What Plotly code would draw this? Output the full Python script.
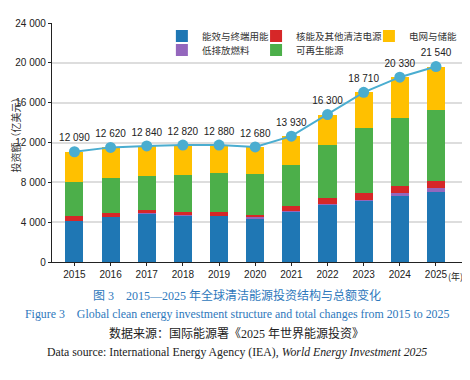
import plotly.graph_objects as go
import numpy as np

years = ["2015", "2016", "2017", "2018", "2019", "2020", "2021", "2022", "2023", "2024", "2025"]
efficiency = [4130, 4530, 4880, 4650, 4630, 4400, 5070, 5770, 6170, 6630, 7030]
low_emission_fuels = [10, 10, 30, 50, 10, 100, 100, 100, 100, 330, 430]
nuclear_other = [500, 430, 350, 370, 430, 230, 470, 570, 700, 670, 670]
renewables = [3400, 3470, 3400, 3700, 3900, 4100, 4100, 5300, 6470, 6830, 7100]
grid_storage = [3030, 3070, 3000, 2970, 2770, 2730, 2900, 3070, 3600, 4100, 4400]
total_labels = [12090, 12620, 12840, 12820, 12880, 12680, 13930, 16300, 18710, 20330, 21540]

y_tickvals = [0, 4000, 8000, 12000, 16000, 20000, 24000]
y_ticktext = ["0", "4 000", "8 000", "12 000", "16 000", "20 000", "24 000"]

SANS = "Liberation Sans, Arial, sans-serif"
CJK = "Noto Sans CJK SC, sans-serif"
SERIF = "Liberation Serif, Noto Sans CJK SC, serif"

series = [
    ("能效与终端用能", efficiency, "#1f77b4", "legend"),
    ("低排放燃料", low_emission_fuels, "#9467bd", "legend2"),
    ("核能及其他清洁电源", nuclear_other, "#d62728", "legend3"),
    ("可再生能源", renewables, "#4caf4a", "legend4"),
    ("电网与储能", grid_storage, "#ffc000", "legend5"),
]

fig = go.Figure()
for name, vals, color, lg in series:
    fig.add_trace(go.Bar(x=years, y=vals, name=name, marker_color=color,
                         marker_line_width=0, width=0.5, legend=lg))

stack_total = np.sum([efficiency, low_emission_fuels, nuclear_other, renewables, grid_storage], axis=0)
fig.add_trace(go.Scatter(
    x=years, y=stack_total, mode="lines+markers+text",
    line=dict(color="#4aadd0", width=2),
    marker=dict(color="#4aadd0", size=11),
    text=[f"{v:,}".replace(",", " ") for v in total_labels],
    textposition="top center",
    textfont=dict(family=SANS, size=10, color="#222"),
    showlegend=False, cliponaxis=False,
))

def leg(xp, yp):
    return dict(x=xp, y=yp, xanchor="left", yanchor="middle", bgcolor="rgba(0,0,0,0)",
                font=dict(family=CJK, size=9.5, color="#333"), borderwidth=0,
                itemwidth=30, tracegroupgap=0)

row1, row2 = 0.946, 0.887
fig.update_layout(
    width=462, height=364,
    margin=dict(l=44, r=8, t=15, b=110, autoexpand=False),
    plot_bgcolor="white", paper_bgcolor="white",
    barmode="stack",
    showlegend=True,
    legend=leg(0.268, row1),
    legend2=leg(0.268, row2),
    legend3=leg(0.4977, row1),
    legend4=leg(0.4977, row2),
    legend5=leg(0.773, row1),
    xaxis=dict(type="category", range=[-0.62, 10.72], showline=True, linecolor="#222",
               linewidth=1.2, ticks="outside", ticklen=3, tickcolor="#222", automargin=False,
               tickfont=dict(family=SANS, size=10, color="#222"), showgrid=False),
    yaxis=dict(range=[0, 24000], tickvals=y_tickvals, ticktext=y_ticktext,
               showgrid=True, gridcolor="#dddddd", gridwidth=1.5, zeroline=False,
               showline=True, linecolor="#222", linewidth=1.2, ticks="outside",
               ticklen=3, tickcolor="#222", automargin=False,
               tickfont=dict(family=SANS, size=10, color="#222")),
)

fig.add_annotation(x=0, y=0.542, xref="paper", yref="paper", text="投资额（亿美元）",
                   showarrow=False, textangle=-90, xanchor="center", yanchor="middle",
                   xshift=-37, font=dict(family=CJK, size=10, color="#333"))

fig.add_annotation(x=10, y=0, xref="x", yref="y", text="(年)", showarrow=False,
                   xanchor="left", yanchor="top", xshift=10, yshift=-6,
                   font=dict(family=CJK, size=9, color="#222"))

caps = [
    ("图 3　2015—2025 年全球清洁能源投资结构与总额变化", -33, "#2e78bc", SERIF, 12),
    ("Figure 3　Global clean energy investment structure and total changes from 2015 to 2025", -52, "#2e78bc", SERIF, 11.9),
    ("数据来源：国际能源署《2025 年世界能源投资》", -71, "#222", SERIF, 12),
    ("Data source: International Energy Agency (IEA), <i>World Energy Investment 2025</i>", -90, "#222", SERIF, 11.8),
]
for text, ys, col, fam, fs in caps:
    fig.add_annotation(x=0.451, y=0, xref="paper", yref="paper", text=text, showarrow=False,
                       xanchor="center", yanchor="middle", yshift=ys,
                       font=dict(family=fam, size=fs, color=col))

fig.write_html("out.html")
